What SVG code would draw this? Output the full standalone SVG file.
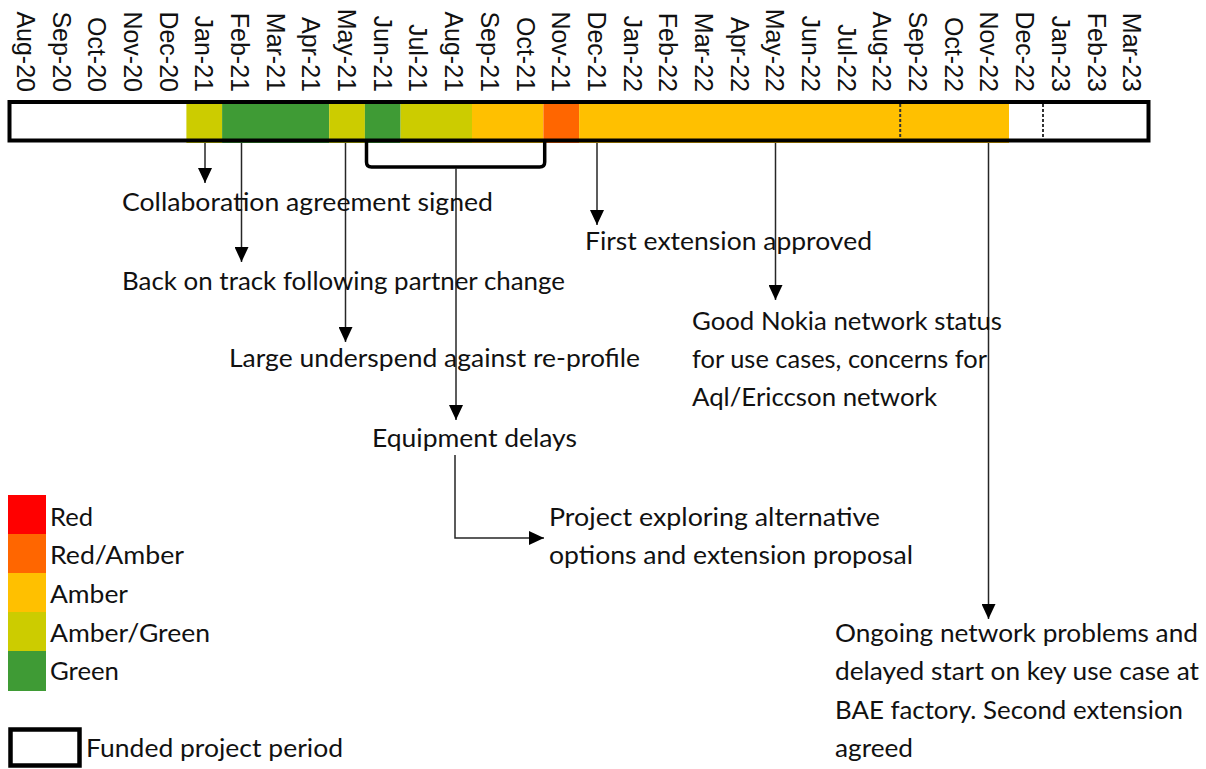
<svg xmlns="http://www.w3.org/2000/svg" width="1206" height="769" viewBox="0 0 1206 769">
  <style>
    .month { font-family: "Liberation Sans", Arial, sans-serif; font-size: 25px; fill: #111; }
    .note { font-family: Lato, "Noto Sans", sans-serif; font-size: 25px; fill: #111; }
    .link { fill: none; stroke: #262626; stroke-width: 1.5; }
    .bracket { fill: none; stroke: #000; stroke-width: 3.5; stroke-linejoin: round; }
    .frame { fill: none; stroke: #000; stroke-width: 4; }
    .tick { stroke: #333; stroke-width: 2; stroke-dasharray: 3 2; }
    .ag { fill: #CCCC00; }
    .g { fill: #3F9B35; }
    .a { fill: #FFC000; }
    .ra { fill: #FF6600; }
    .r { fill: #FF0000; }
  </style>
  <defs>
    <marker id="head" markerUnits="userSpaceOnUse" markerWidth="15" markerHeight="14" refX="15" refY="7" orient="auto">
      <path d="M0,0 L15,7 L0,14 Z" fill="#000"/>
    </marker>
  </defs>
  <rect width="1206" height="769" fill="#fff"/>

  <!-- Month axis labels, one column per month (35.69 px wide, starting at x=8) -->
  <g id="months" class="month" text-anchor="end">
    <text transform="translate(16.8,92) rotate(90)">Aug-20</text>
    <text transform="translate(52.5,92) rotate(90)">Sep-20</text>
    <text transform="translate(88.2,92) rotate(90)">Oct-20</text>
    <text transform="translate(123.9,92) rotate(90)">Nov-20</text>
    <text transform="translate(159.6,92) rotate(90)">Dec-20</text>
    <text transform="translate(195.3,92) rotate(90)">Jan-21</text>
    <text transform="translate(231.0,92) rotate(90)">Feb-21</text>
    <text transform="translate(266.7,92) rotate(90)">Mar-21</text>
    <text transform="translate(302.3,92) rotate(90)">Apr-21</text>
    <text transform="translate(338.0,92) rotate(90)">May-21</text>
    <text transform="translate(373.7,92) rotate(90)">Jun-21</text>
    <text transform="translate(409.4,92) rotate(90)">Jul-21</text>
    <text transform="translate(445.1,92) rotate(90)">Aug-21</text>
    <text transform="translate(480.8,92) rotate(90)">Sep-21</text>
    <text transform="translate(516.5,92) rotate(90)">Oct-21</text>
    <text transform="translate(552.2,92) rotate(90)">Nov-21</text>
    <text transform="translate(587.8,92) rotate(90)">Dec-21</text>
    <text transform="translate(623.5,92) rotate(90)">Jan-22</text>
    <text transform="translate(659.2,92) rotate(90)">Feb-22</text>
    <text transform="translate(694.9,92) rotate(90)">Mar-22</text>
    <text transform="translate(730.6,92) rotate(90)">Apr-22</text>
    <text transform="translate(766.3,92) rotate(90)">May-22</text>
    <text transform="translate(802.0,92) rotate(90)">Jun-22</text>
    <text transform="translate(837.7,92) rotate(90)">Jul-22</text>
    <text transform="translate(873.3,92) rotate(90)">Aug-22</text>
    <text transform="translate(909.0,92) rotate(90)">Sep-22</text>
    <text transform="translate(944.7,92) rotate(90)">Oct-22</text>
    <text transform="translate(980.4,92) rotate(90)">Nov-22</text>
    <text transform="translate(1016.1,92) rotate(90)">Dec-22</text>
    <text transform="translate(1051.8,92) rotate(90)">Jan-23</text>
    <text transform="translate(1087.5,92) rotate(90)">Feb-23</text>
    <text transform="translate(1123.2,92) rotate(90)">Mar-23</text>
  </g>

  <!-- Status bar: monthly RAG fills inside the funded-period frame -->
  <g id="status-bar">
    <rect class="ag" x="186.4" y="102" width="35.7" height="41"/>
    <rect class="g" x="222.1" y="102" width="107.1" height="41"/>
    <rect class="ag" x="329.2" y="102" width="35.7" height="41"/>
    <rect class="g" x="364.9" y="102" width="35.7" height="41"/>
    <rect class="ag" x="400.6" y="102" width="71.4" height="41"/>
    <rect class="a" x="472.0" y="102" width="71.4" height="41"/>
    <rect class="ra" x="543.4" y="102" width="35.7" height="41"/>
    <rect class="a" x="579.1" y="102" width="429.9" height="41"/>
    <line class="tick" x1="900.2" y1="104" x2="900.2" y2="138.5"/>
    <line class="tick" x1="1043" y1="104" x2="1043" y2="138.5"/>
    <rect class="frame" x="9.5" y="102" width="1139" height="38.5"/>
  </g>

  <!-- Connectors from the bar to the event notes -->
  <g id="connectors">
    <line class="link" x1="205" y1="143" x2="205" y2="183" marker-end="url(#head)"/>
    <line class="link" x1="241.5" y1="143" x2="241.5" y2="262" marker-end="url(#head)"/>
    <line class="link" x1="345.5" y1="143" x2="345.5" y2="342" marker-end="url(#head)"/>
    <path class="bracket" d="M366.5,141 V162 Q366.5,167 371.5,167 H539.7 Q544.7,167 544.7,162 V141"/>
    <line class="link" x1="456" y1="168" x2="456" y2="420" marker-end="url(#head)"/>
    <polyline class="link" points="455,455 455,538 544,538" marker-end="url(#head)"/>
    <line class="link" x1="597" y1="143" x2="597" y2="225" marker-end="url(#head)"/>
    <line class="link" x1="775.5" y1="143" x2="775.5" y2="300" marker-end="url(#head)"/>
    <line class="link" x1="988.5" y1="143" x2="988.5" y2="619" marker-end="url(#head)"/>
  </g>

  <!-- Event notes -->
  <g id="note-collaboration" class="note">
    <text x="122" y="211" textLength="371" lengthAdjust="spacingAndGlyphs">Collaboration agreement signed</text>
  </g>
  <g id="note-back-on-track" class="note">
    <text x="122" y="290" textLength="443" lengthAdjust="spacingAndGlyphs">Back on track following partner change</text>
  </g>
  <g id="note-first-extension" class="note">
    <text x="585" y="250" textLength="287" lengthAdjust="spacingAndGlyphs">First extension approved</text>
  </g>
  <g id="note-underspend" class="note">
    <text x="229" y="367" textLength="411" lengthAdjust="spacingAndGlyphs">Large underspend against re-profile</text>
  </g>
  <g id="note-network-status" class="note">
    <text x="692" y="330" textLength="310" lengthAdjust="spacingAndGlyphs">Good Nokia network status</text>
    <text x="692" y="368" textLength="295" lengthAdjust="spacingAndGlyphs">for use cases, concerns for</text>
    <text x="692" y="406" textLength="245" lengthAdjust="spacingAndGlyphs">Aql/Ericcson network</text>
  </g>
  <g id="note-equipment" class="note">
    <text x="372" y="447" textLength="205" lengthAdjust="spacingAndGlyphs">Equipment delays</text>
  </g>
  <g id="note-alternatives" class="note">
    <text x="549" y="526" textLength="331" lengthAdjust="spacingAndGlyphs">Project exploring alternative</text>
    <text x="549" y="564" textLength="364" lengthAdjust="spacingAndGlyphs">options and extension proposal</text>
  </g>
  <g id="note-second-extension" class="note">
    <text x="835" y="642" textLength="363" lengthAdjust="spacingAndGlyphs">Ongoing network problems and</text>
    <text x="835" y="680" textLength="364" lengthAdjust="spacingAndGlyphs">delayed start on key use case at</text>
    <text x="835" y="719" textLength="348" lengthAdjust="spacingAndGlyphs">BAE factory. Second extension</text>
    <text x="835" y="757" textLength="78" lengthAdjust="spacingAndGlyphs">agreed</text>
  </g>

  <!-- Legend -->
  <g id="legend">
    <rect class="r" x="8" y="495" width="38" height="39"/>
    <rect class="ra" x="8" y="534" width="38" height="39"/>
    <rect class="a" x="8" y="573" width="38" height="39"/>
    <rect class="ag" x="8" y="612" width="38" height="39"/>
    <rect class="g" x="8" y="651" width="38" height="40"/>
    <g class="note">
      <text x="50" y="526" textLength="43" lengthAdjust="spacingAndGlyphs">Red</text>
      <text x="50" y="564" textLength="134" lengthAdjust="spacingAndGlyphs">Red/Amber</text>
      <text x="50" y="603" textLength="78" lengthAdjust="spacingAndGlyphs">Amber</text>
      <text x="50" y="642" textLength="160" lengthAdjust="spacingAndGlyphs">Amber/Green</text>
      <text x="50" y="680" textLength="69" lengthAdjust="spacingAndGlyphs">Green</text>
    </g>
    <rect x="10.5" y="729.5" width="69" height="36" fill="none" stroke="#000" stroke-width="4.5"/>
    <text class="note" x="86" y="757" textLength="257" lengthAdjust="spacingAndGlyphs">Funded project period</text>
  </g>
</svg>
